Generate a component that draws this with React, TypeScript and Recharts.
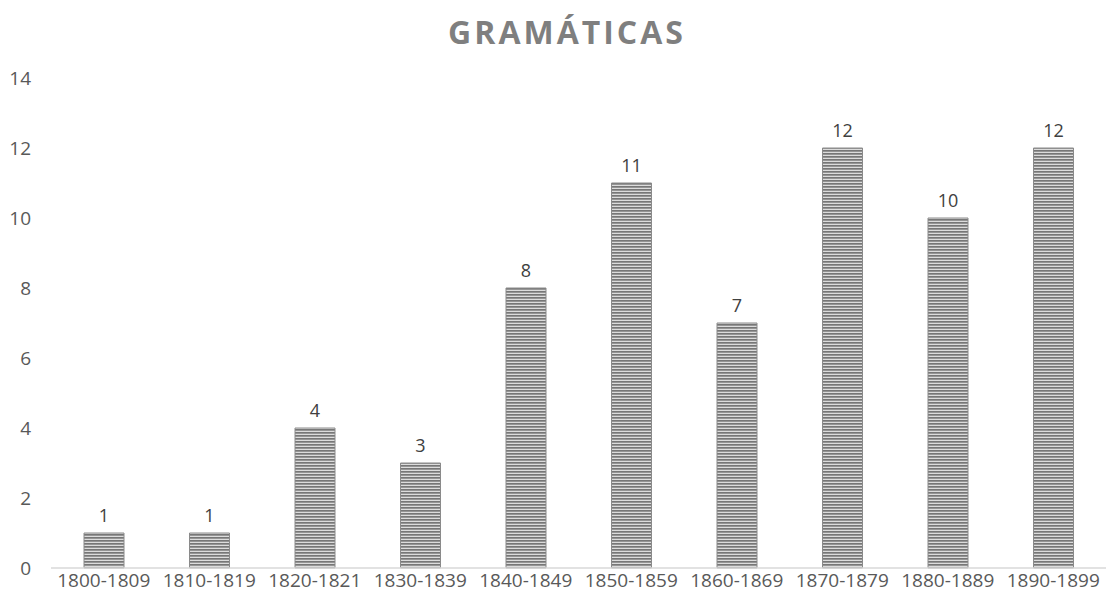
import { Bar, BarChart, LabelList, XAxis, YAxis } from "recharts";

const periods = [
  "1800-1809",
  "1810-1819",
  "1820-1821",
  "1830-1839",
  "1840-1849",
  "1850-1859",
  "1860-1869",
  "1870-1879",
  "1880-1889",
  "1890-1899",
];
const counts = [1, 1, 4, 3, 8, 11, 7, 12, 10, 12];
const yTicks = [0, 2, 4, 6, 8, 10, 12, 14];

const data = periods.map((p, i) => ({ period: p, count: counts[i] }));

const FONT = "'Open Sans', sans-serif";

export default function App() {
  return (
    <div
      style={{
        position: "absolute",
        left: 0,
        top: 0,
        width: 1106,
        height: 603,
        background: "#fff",
        fontFamily: FONT,
      }}
    >
      <div
        style={{
          position: "absolute",
          top: 10,
          left: 2,
          width: 1130,
          textAlign: "center",
          fontSize: 32,
          fontWeight: 700,
          letterSpacing: 3,
          color: "#7f7f7f",
        }}
      >
        GRAMÁTICAS
      </div>
      <BarChart
        width={1106}
        height={603}
        data={data}
        margin={{ top: 78, right: 0, bottom: 0, left: 0 }}
        barSize={40}
      >
        <defs>
          <pattern id="hstripes" width="6" height="3" patternUnits="userSpaceOnUse">
            <rect width="6" height="3" fill="#dcdcdc" />
            <rect width="6" height="1.7" fill="#777" />
          </pattern>
        </defs>
        <XAxis
          dataKey="period"
          height={35}
          axisLine={{ stroke: "#d9d9d9", strokeWidth: 1.5 }}
          tickLine={false}
          tickSize={0}
          tickMargin={6}
          interval={0}
          tick={{ fontSize: 19, fill: "#595959", fontFamily: FONT }}
        />
        <YAxis
          width={51}
          domain={[0, 14]}
          ticks={yTicks}
          axisLine={false}
          tickLine={false}
          tickSize={0}
          tickMargin={20}
          tick={{ fontSize: 19, fill: "#595959", fontFamily: FONT }}
        />
        <Bar
          dataKey="count"
          fill="url(#hstripes)"
          stroke="#8a8a8a"
          strokeWidth={1}
          isAnimationActive={false}
        >
          <LabelList
            dataKey="count"
            position="top"
            offset={11}
            style={{ fontSize: 18, fill: "#404040", fontFamily: FONT }}
          />
        </Bar>
      </BarChart>
    </div>
  );
}
